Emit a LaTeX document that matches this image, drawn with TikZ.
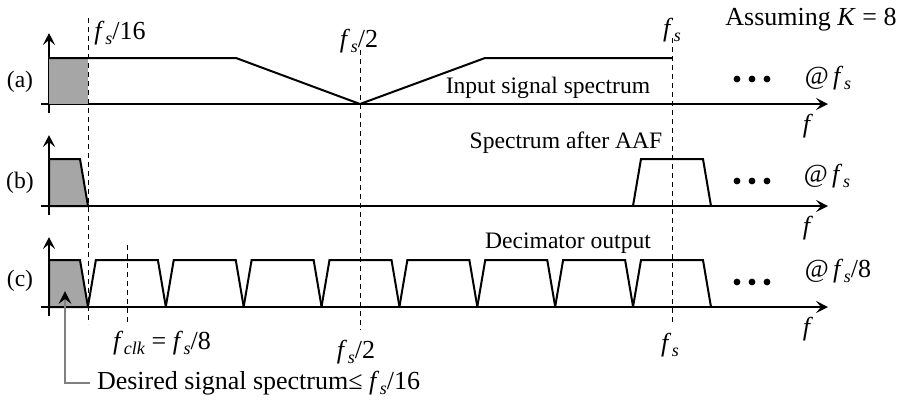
\documentclass[tikz,border=0pt]{standalone}
\usepackage{fontspec}
\setmainfont{Liberation Serif}
\usetikzlibrary{arrows.meta}

\definecolor{bandgray}{gray}{0.65}
% italic f with a lowered subscript, set in the text font
\newcommand{\fsub}[1]{\textit{f}\kern0.3pt\raisebox{-0.4ex}{\fontsize{9}{9}\selectfont\textit{#1}}}
\newcommand{\fsamp}{\fsub{s}}

\begin{document}
\begin{tikzpicture}[
    x=0.5pt, y=-0.5pt,
    font=\fontsize{11.8}{13.5}\selectfont,
    >={Stealth[length=6pt, width=6pt, inset=2.5pt]},
    axis/.style={line width=0.75pt},
    spec/.style={line width=1pt, line join=miter},
    band/.style={spec, fill=bandgray},
    guide/.style={line width=0.5pt, dash pattern=on 2.5pt off 2pt},
    dot/.style={circle, fill, inner sep=0pt, minimum size=3.4pt},
    big/.style={font=\fontsize{13}{15}\selectfont},
  ]
  \useasboundingbox (0,0) rectangle (902,404);

  % axes of the three panels
  \foreach \p/\y/\t in {a/104/33, b/206/135, c/307/237} {
    \coordinate (\p0) at (49,\y);
    \coordinate (\p top) at (49,\t);
    \coordinate (\p end) at (828,\y);
    \draw[axis, ->] (41,\y) -- (\p end);
    \draw[axis, ->] (49,\y+9) -- (\p top);
    \node[big, anchor=north] (f\p) at (808,\y+3) {\textit{f}};
    \foreach \d in {737,752,767} \node[dot] at (\d,\y-25) {};
  }

  % guide lines
  \draw[guide] (88,18) -- (88,324);
  \draw[guide] (360,50) -- (360,330);
  \draw[guide] (672,38) -- (672,324);
  \draw[guide] (127,245) -- (127,324);

  % (a) input spectrum
  \fill[bandgray] (49,58) rectangle (88,104);
  \draw[spec] (49,58) -- (236,58) -- (360,104) -- (485,58) -- (672,58);

  % (b) after AAF
  \draw[band] (49,206) -- (49,159) -- (80,159) -- (88,206) -- cycle;
  \draw[spec] (633,206) -- (641,159) -- (703,159) -- (711,206);

  % (c) decimator output
  \draw[band] (49,307) -- (49,260) -- (80,260) -- (88,307) -- cycle;
  \foreach \k in {1,...,8}
    \draw[spec] ({49+\k*77.875-39},307) -- ++(8,-47) -- ++(62,0) -- ++(8,47);

  % panel names and rates
  \node (la) at (20,82) {(a)};
  \node (lb) at (20,183) {(b)};
  \node (lc) at (20,281) {(c)};
  \node[big] (ra) at (828,78) {@\,\fsamp};
  \node[big] (rb) at (827,176) {@\,\fsamp};
  \node[big] (rc) at (838,271) {@\,\fsamp/8};
  \node[big] (K) at (811,20) {Assuming \textit{K} = 8};

  % spectra titles
  \node (ta) at (548,88) {Input signal spectrum};
  \node (tb) at (566,143) {Spectrum after AAF};
  \node (tc) at (568,243) {Decimator output};

  % frequency marks
  \node[big] (m16) at (120,33) {\fsamp/16};
  \node[big] (mhalf) at (359,41) {\fsamp/2};
  \node[big] (mfs) at (672,30) {\fsamp};
  \node[big] (mclk) at (162,343) {\fsub{clk} = \fsamp/8};
  \node[big] (mhalfb) at (356,352) {\fsamp/2};
  \node[big] (mfsb) at (670,345) {\fsamp};

  % desired band pointer
  \node[big, anchor=west] (want) at (90,383) {Desired signal spectrum≤ \fsamp/16};
  \coordinate (corner) at (65,383);
  \coordinate (tip) at (65,299);
  \draw[gray, line width=0.6pt] (want.west) -- (corner) -- (tip);
  \fill (65,291) -- (71.5,304) -- (65,299) -- (58.5,304) -- cycle;
\end{tikzpicture}
\end{document}
